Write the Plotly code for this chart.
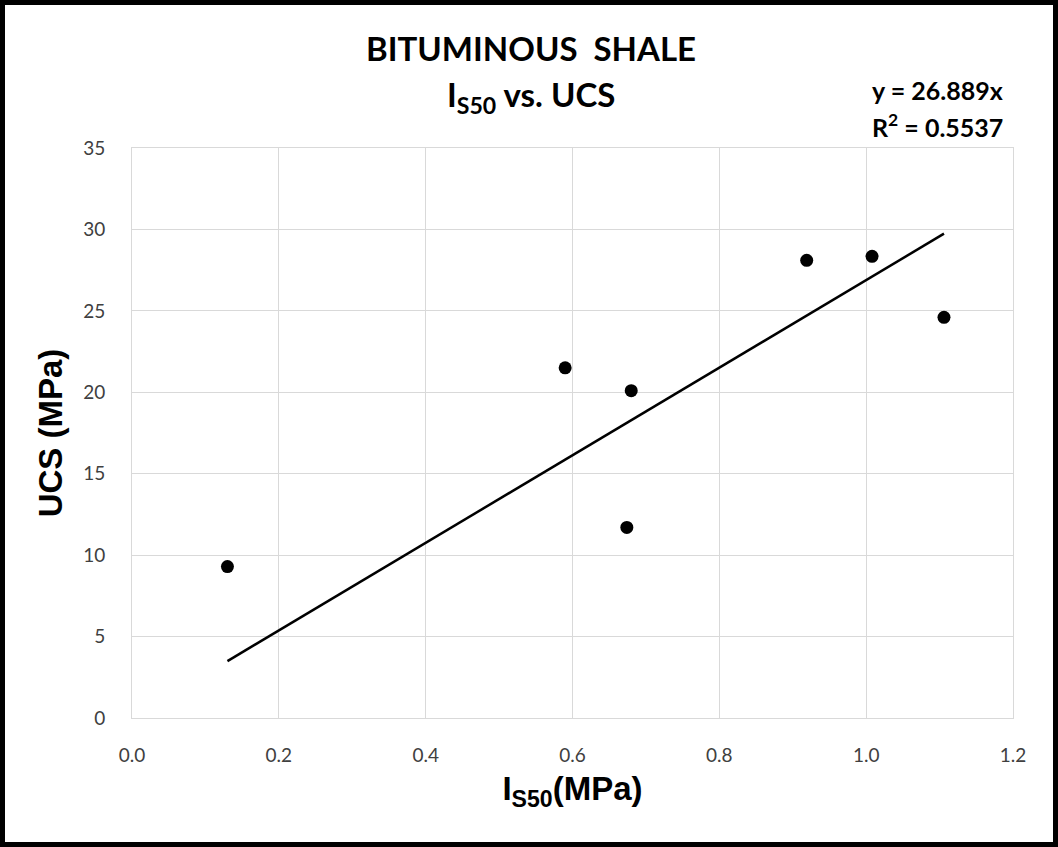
import plotly.graph_objects as go

is50 = [0.13, 0.59, 0.68, 0.674, 0.919, 1.008, 1.106]
ucs = [9.3, 21.5, 20.1, 11.7, 28.1, 28.35, 24.6]
slope = 26.889
r2 = 0.5537
x_ticks = [0.0, 0.2, 0.4, 0.6, 0.8, 1.0, 1.2]
y_ticks = [0, 5, 10, 15, 20, 25, 30, 35]

W, H = 1058, 847
L, R, T, B = 132, 45, 148, 129
pw, ph = W - L - R, H - T - B

xmin, xmax = min(is50), max(is50)

fig = go.Figure()
fig.add_trace(go.Scatter(x=is50, y=ucs, mode="markers",
                         marker=dict(color="black", size=13), showlegend=False))
fig.add_trace(go.Scatter(x=[xmin, xmax], y=[slope * xmin, slope * xmax], mode="lines",
                         line=dict(color="black", width=2.5), showlegend=False))

grid = "#d9d9d9"
tickfont = dict(family="Lato, Open Sans, sans-serif", size=19, color="#404040")
axfont = dict(family="Liberation Sans, Arial", size=33, color="black")
fig.update_xaxes(range=[0, 1.2], tickvals=x_ticks, ticktext=[f"{v:.1f}" for v in x_ticks],
                 showgrid=True, gridcolor=grid, gridwidth=1, zeroline=False,
                 showline=True, linecolor=grid, linewidth=1, mirror=True,
                 tickfont=tickfont, ticklabelstandoff=20,
                 title=dict(text="<b>I<sub>S50</sub>(MPa)</b>", font=axfont, standoff=12))
fig.update_yaxes(range=[0, 35], tickvals=y_ticks, showgrid=True, gridcolor=grid, gridwidth=1,
                 zeroline=False, showline=True, linecolor=grid, linewidth=1, mirror=True,
                 tickfont=tickfont, ticklabelstandoff=22,
                 title=dict(text="<b>UCS (MPa)</b>", font=axfont, standoff=10))

titlefont = dict(family="Lato, Open Sans, sans-serif", size=33, color="black")
fig.add_annotation(text="<b>BITUMINOUS  SHALE</b>", xref="paper", yref="paper",
                   x=(531 - L) / pw, y=(H - B - 48) / ph, showarrow=False, font=titlefont,
                   xanchor="center", yanchor="middle")
fig.add_annotation(text="<b>I<sub>S50</sub> vs. UCS</b>", xref="paper", yref="paper",
                   x=(531 - L) / pw, y=(H - B - 97) / ph, showarrow=False, font=titlefont,
                   xanchor="center", yanchor="middle")
eqfont = dict(family="Lato, Open Sans, sans-serif", size=25, color="black")
fig.add_annotation(text=f"<b>y = {slope}x</b>", xref="paper", yref="paper",
                   x=(937 - L) / pw, y=(H - B - 90) / ph, showarrow=False, font=eqfont,
                   xanchor="center", yanchor="middle")
fig.add_annotation(text=f"<b>R<sup>2</sup> = {r2}</b>", xref="paper", yref="paper",
                   x=(937 - L) / pw, y=(H - B - 125) / ph, showarrow=False, font=eqfont,
                   xanchor="center", yanchor="middle")

# outer black frame
fig.add_shape(type="rect", xref="paper", yref="paper",
              x0=(-L + 2.5) / pw, x1=(pw + R - 2.5) / pw,
              y0=(-B + 2.5) / ph, y1=(ph + T - 2.5) / ph,
              line=dict(color="black", width=5), fillcolor="rgba(0,0,0,0)", layer="above")

fig.update_layout(width=W, height=H, margin=dict(l=L, r=R, t=T, b=B),
                  paper_bgcolor="white", plot_bgcolor="white")
fig.write_html("out.html")
